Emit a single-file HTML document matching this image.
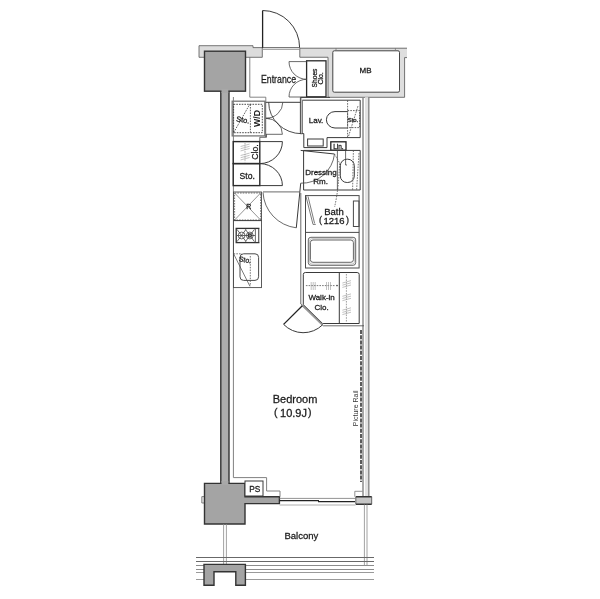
<!DOCTYPE html>
<html><head><meta charset="utf-8">
<style>
html,body{margin:0;padding:0;background:#fff;}
svg{display:block;}
text{font-family:"Liberation Sans",sans-serif;fill:#1a1a1a;stroke:#1a1a1a;stroke-width:.28;}
.l{fill:none;stroke:#3a3a3a;stroke-width:1;}
.k{fill:none;stroke:#222;stroke-width:1.3;}
.t{fill:none;stroke:#444;stroke-width:.8;}
.d{fill:none;stroke:#555;stroke-width:.8;stroke-dasharray:1.6 1.1;}
.col{fill:#a4a4a4;stroke:#333;stroke-width:1.4;}
.wall{fill:#dcdcdc;stroke:#555;stroke-width:.8;}
.w{fill:#fff;stroke:#3a3a3a;stroke-width:1;}
</style></head><body>
<svg width="600" height="599" viewBox="0 0 600 599">
<rect width="600" height="599" fill="#fff"/>

<!-- ===== walls ===== -->
<g id="walls">
<!-- top wall left of door -->
<path class="wall" d="M199 45.7H253V47.6H262.3V57.3H199Z"/>
<!-- top wall right of door + MB surround -->
<path d="M299.8 48.1H407V57.6H404.6V97.3H328V57.25H299.8Z" fill="#dedede"/>
<path class="t" style="stroke:#505050" d="M407 48.2H299.8V57.25H328V97.3H404.6V57.6H407"/>
<rect class="w" x="332.8" y="50.8" width="66.7" height="41.4" rx="1.5" style="stroke:#444"/>
<path class="t" d="M336 48.1V50.8M395.4 48.1V50.8" style="stroke:#777"/>
<!-- right wall -->
<rect x="365" y="97.2" width="3.2" height="399" fill="#e2e2e2"/>
<line x1="363" y1="97.2" x2="363" y2="496" stroke="#858585" stroke-width="1.4"/>
<line x1="368.8" y1="97.2" x2="368.8" y2="496" stroke="#858585" stroke-width="1.4"/>
<!-- left column + stem -->
<rect class="col" x="220.8" y="90" width="8.2" height="394" style="fill:#adadad"/>
<rect class="col" x="204.5" y="51.2" width="41" height="40"/>
<rect x="221.5" y="89" width="6.8" height="4" fill="#a8a8a8"/>
<!-- bottom column -->
<path class="t" style="stroke:#666;fill:#e8e8e8" d="M204.4 496.6H201.8V503H204.4"/>
<path class="col" d="M204.5 483.4H245V496.8H279.4V503.6H245V524H204.5Z"/>
<rect x="221.5" y="481" width="6.8" height="4" fill="#a8a8a8"/>
<!-- U column at bottom -->
<!-- wall end piece right -->
<rect x="355.8" y="496.7" width="15.9" height="7.5" fill="#c6c6c6"/>
<path d="M355.8 496.7H371.7M355.8 504.2H371.7" fill="none" stroke="#333" stroke-width="1.5"/>
<path class="t" d="M355.8 496.7V504.2M371.7 496.7V504.2"/>
<path class="t" style="stroke:#777" d="M362.5 491.3H354.8V496.7"/>
</g>

<!-- ===== interior lines ===== -->
<g id="lines">
<!-- entrance door -->
<line class="k" x1="262.6" y1="48" x2="262.6" y2="10.5"/>
<path class="l" d="M262.6 10.5A37 37 0 0 1 299.6 47.5"/>
<line class="t" x1="262.4" y1="47.6" x2="300" y2="47.6"/>
<line class="t" style="stroke:#777" x1="263" y1="49.3" x2="299.4" y2="49.3"/>
<!-- entrance room -->
<path class="t" style="stroke:#666" d="M249.8 57.3V97.2H265.8V101.3"/>

<!-- interior left wall line -->
<path style="fill:none;stroke:#808080;stroke-width:1" d="M233.4 97V477.6H266.6V491H280V496.6"/>
<!-- PS -->
<rect class="w" x="245" y="481" width="18" height="15"/>
</g>

<!-- ===== shoes clo ===== -->
<g id="shoes">
<rect class="w" x="306.6" y="60.8" width="19.4" height="36" style="stroke-width:1.3;stroke:#2a2a2a"/>
<path class="t" d="M289 61.6H306.7M289 97H306.7"/>
<path class="t" d="M289 61.6A17.7 17.7 0 0 0 306.7 79.3"/>
<path class="t" d="M289 97A17.7 17.7 0 0 1 306.7 79.3"/>
</g>

<!-- ===== W/D ===== -->
<g id="wd">
<rect x="232.2" y="101.2" width="32.6" height="34.7" fill="none" stroke="#777" stroke-width="1.3"/>
<line x1="265.6" y1="101.2" x2="265.6" y2="137" stroke="#777" stroke-width="1.2"/>
<rect class="d" x="233.6" y="104.3" width="28.7" height="28.4" style="stroke:#3a3a3a;stroke-width:.9"/>
<line class="d" x1="250.4" y1="104.3" x2="250.4" y2="132.7" style="stroke:#3a3a3a"/>
<path class="d" d="M233.6 132.7L250 103.8" style="stroke:#3a3a3a"/>
<!-- WD doors -->
<path class="l" d="M265.8 102.3H301.7"/><path class="t" d="M266 134.3H282.4"/>
<path class="t" d="M266.5 134.3V137.3H259.8V141.4"/>
<path class="t" d="M282.8 102.3A17 16 0 0 1 266 118.3H270"/>
<path class="t" d="M282.4 134.3A16.4 16 0 0 0 266 118.3"/>
<!-- hallway door -->
<path class="l" style="stroke-width:.9" d="M268.7 102.3A33 31.4 0 0 0 301.7 133.7"/>
</g>

<!-- ===== Clo / Sto ===== -->
<g id="closto">
<rect class="k" x="233.2" y="141.6" width="26.6" height="22" style="stroke:#2a2a2a;stroke-width:1.4"/>
<rect class="k" x="233.2" y="163.6" width="26.6" height="22" style="stroke:#2a2a2a;stroke-width:1.4"/>
<path d="M240.6 146.5L249.6 144.1M240.6 148.7L249.6 146.3M240.6 150.9L249.6 148.5M240.6 155.5L249.6 153.1M240.6 157.7L249.6 155.3M240.6 159.9L249.6 157.5" fill="none" stroke="#999" stroke-width=".6"/>
<line class="d" x1="245" y1="143" x2="245" y2="162.4" style="stroke:#999"/>
<path class="l" d="M259.8 141.6H282.4M259.8 185.6H282.4"/>
<path class="l" d="M282.4 141.6A22.6 22 0 0 1 259.8 163.6"/>
<path class="l" d="M259.8 163.6A22.6 22 0 0 1 282.4 185.6"/>
</g>

<!-- ===== Lav ===== -->
<g id="lav">
<path class="l" d="M300.4 97.4V133.6H303.8V147.6H327V137.6H360.2V100.2H302.4"/>
<line class="l" x1="300.4" y1="97.4" x2="330" y2="97.4"/>
<line class="t" x1="302.4" y1="100.2" x2="302.4" y2="133.6"/>
<rect x="300.9" y="98" width="1.2" height="35.4" fill="#bbb"/>
<path class="l" d="M347 111.6H335A8.6 8.2 0 0 0 335 128H347"/>
<rect class="d" x="347.6" y="110.6" width="12" height="17" style="stroke:#3a3a3a"/>
<line class="d" x1="347.6" y1="100.4" x2="347.6" y2="137.4" style="stroke:#444"/>
<path class="d" d="M348.6 136L358 106" style="stroke:#444"/>
<rect class="l" x="307.6" y="139" width="15.6" height="7"/>
<rect class="k" x="330.8" y="141.8" width="15.2" height="8.4"/>
</g>

<!-- ===== Dressing ===== -->
<g id="dress">
<path class="l" d="M303.6 150.4H360.2V190H303.6Z"/>
<line class="t" x1="337.4" y1="150.4" x2="337.4" y2="190"/>
<rect class="l" x="340.3" y="159.2" width="14" height="23.3" rx="6.6"/>
<path class="t" d="M345.6 151V165H347"/>
<path class="l" d="M300.7 150.4L334.5 154"/>
<path class="t" d="M334.5 154A33 33 0 0 1 300.7 183.2"/>
<path class="d" d="M353.4 150.4L352.6 190M359 153L356.6 190"/>
</g>

<!-- ===== Kitchen ===== -->
<g id="kitchen">
<rect class="l" x="233.5" y="192" width="28" height="95.6" style="stroke:#4a4a4a;stroke-width:.9"/>
<rect class="d" x="234.6" y="193" width="26" height="27"/>
<path class="t" style="stroke:#666;stroke-width:.7" d="M234.6 193L260.6 220M260.6 193L234.6 220"/>
<line class="l" x1="233.6" y1="220.6" x2="261.6" y2="220.6"/>
<!-- stove -->
<rect class="k" x="236.2" y="228.4" width="22.6" height="14.2" style="stroke:#333"/>
<rect x="258.8" y="229" width="1.4" height="13" fill="#ccc"/>
<line class="t" x1="255.4" y1="228.4" x2="255.4" y2="242.6"/>
<line class="t" x1="237" y1="235.5" x2="255" y2="235.5"/>
<circle class="t" cx="241.6" cy="235.5" r="3.4"/>
<circle class="t" cx="249.8" cy="235.5" r="3.4"/>
<circle cx="249.8" cy="235.5" r="1.6" fill="#fff" stroke="#222" stroke-width="1.1"/>
<path class="t" d="M237 229.4L246 241.6M246 229.4L237 241.6M245.4 229.4L254.4 241.6M254.4 229.4L245.4 241.6"/>
<!-- sink -->
<rect class="l" x="240" y="253.8" width="18.6" height="26.6" rx="3.6" style="stroke:#4a4a4a"/>
<path class="d" d="M233.6 253.8H242M250.3 256V286"/>
<path class="t" style="stroke-width:.7" d="M233.6 253.8L250 286.4"/>
<!-- kitchen door -->
<line x1="263" y1="191.8" x2="299.6" y2="191.8" stroke="#888" stroke-width="1.2"/>
<path class="l" d="M300.7 183.3L296.3 227.8"/>
<path class="t" d="M296.3 227.8A37.6 37.6 0 0 1 263 192.4"/>
</g>

<!-- ===== Bath ===== -->
<g id="bath">
<rect class="l" x="305.5" y="195.6" width="53.6" height="72.4" style="stroke:#4a4a4a"/>
<line class="l" x1="305.5" y1="232.4" x2="359.1" y2="232.4" style="stroke:#4a4a4a"/>
<rect class="l" x="308.3" y="237.3" width="47.4" height="28" rx="2.6" style="stroke:#555;stroke-width:.9"/>
<rect class="t" x="309.4" y="238.7" width="45.2" height="25.4" rx="2.6" style="stroke:#999;stroke-width:.6"/>
<rect class="l" x="310.4" y="240" width="43" height="22.3" rx="2.6" style="stroke:#555;stroke-width:.9"/>
<rect class="l" x="353.4" y="201" width="5.6" height="25.5" style="stroke:#4a4a4a"/>
<path class="t" style="stroke-width:.7" d="M305.8 195.7L313 224.4H315.8M308 196.4L314.6 223.4"/>
<path class="t" d="M300.8 193V304L323.4 325.8H364"/>
<path class="d" d="M334.5 154L339.6 163C339 178 338 192 334.6 207"/>
</g>

<!-- ===== Walk-in ===== -->
<g id="walkin">
<path class="l" d="M303.3 304.6V274.5A2 2 0 0 1 305.3 272.5H357.2A2 2 0 0 1 359.2 274.5V323.5H322.4"/>
<path d="M302.2 304.8L322.6 324.6" fill="none" stroke="#999" stroke-width="2.4"/>
<path class="t" d="M303.3 304.6L322.4 323.5"/>
<line class="l" x1="339.3" y1="272.5" x2="339.3" y2="323.5"/>
<line class="d" x1="346.4" y1="274" x2="346.4" y2="322" style="stroke:#888"/>
<line class="d" x1="305.9" y1="285.6" x2="335.2" y2="285.6"/>
<path d="M311.2 282V290M313.2 282V290M315.2 282V290M326.5 282V290M328.5 282V290M330.5 282V290M342.4 283.0L351 280.6M342.4 285.2L351 282.8M342.4 287.4L351 285.0M342.4 296.3L351 293.9M342.4 298.5L351 296.1M342.4 300.7L351 298.3M342.4 310.2L351 307.8M342.4 312.4L351 310.0M342.4 314.6L351 312.2" fill="none" stroke="#999" stroke-width=".6"/>
<circle cx="337" cy="285.6" r=".8" fill="#333"/>
<!-- door -->
<path class="k" d="M302.3 305.7L283.6 324.4"/>
<path class="l" d="M283.6 324.4A27.5 27.5 0 0 0 322.6 324.8"/>
</g>

<!-- ===== window / balcony ===== -->
<g id="balcony">
<line class="t" style="stroke:#777" x1="279.6" y1="498.4" x2="355.6" y2="498.4"/>
<line class="t" style="stroke:#999" x1="279.6" y1="505" x2="355.6" y2="505"/>
<line class="k" x1="279.6" y1="500.6" x2="319" y2="500.6"/>
<line class="k" x1="318" y1="501.7" x2="355" y2="501.7"/>
<!-- partitions -->
<path class="t" style="stroke:#8a8a8a" d="M223.6 524V564M226.4 524V564"/>
<path class="t" style="stroke:#8a8a8a" d="M364.4 504.4V565M367 504.4V565"/>
<!-- railing -->
<path d="M196 557.5H374M196 561.5H374" fill="none" stroke="#686868" stroke-width="1"/>
<path d="M196 565.5H374M196 569.5H374" fill="none" stroke="#8c8c8c" stroke-width="1"/>
<path d="M196 572.5H374M196 579.5H374" fill="none" stroke="#9a9a9a" stroke-width="1"/>
<rect x="204" y="564.4" width="41.4" height="21.4" fill="#fff"/>
<path class="col" d="M204 564.4H245.4V585.2H235.8V571.8H214V585.2H204Z"/>
<!-- picture rail -->
<line x1="361" y1="330" x2="361" y2="482" stroke="#333" stroke-width="1.6" stroke-dasharray="4 1.2"/>
</g>

<!-- ===== text ===== -->
<g id="labels" opacity="0.99">
<text x="278.5" y="83.2" font-size="11" text-anchor="middle" textLength="35" lengthAdjust="spacingAndGlyphs">Entrance</text>
<text transform="translate(316.6 78) rotate(-90)" font-size="7.5" text-anchor="middle" textLength="18.8" lengthAdjust="spacingAndGlyphs">Shoes</text>
<text transform="translate(323.2 78.4) rotate(-90)" font-size="7.5" text-anchor="middle" textLength="12.4" lengthAdjust="spacingAndGlyphs">Clo.</text>
<text x="365.5" y="73.3" font-size="8" text-anchor="middle">MB</text>
<text transform="translate(242.4 122.4) rotate(11)" font-size="7.5" text-anchor="middle">Sto.</text>
<text transform="translate(259.6 118.5) rotate(-90)" font-size="8.8" text-anchor="middle" font-weight="bold" style="stroke-width:0">W/D</text>
<text transform="translate(258.3 152) rotate(-90)" font-size="8.8" text-anchor="middle">Clo.</text>
<text x="247.2" y="178.5" font-size="8.6" text-anchor="middle">Sto.</text>
<text x="316" y="123.4" font-size="8" text-anchor="middle">Lav.</text>
<text x="353" y="122" font-size="6" text-anchor="middle">Sto.</text>
<text x="338.4" y="148.5" font-size="6.5" text-anchor="middle">Lin.</text>
<text x="321" y="175.3" font-size="8" text-anchor="middle">Dressing</text>
<text x="320.6" y="183.8" font-size="8" text-anchor="middle">Rm.</text>
<text x="248.8" y="209" font-size="7" text-anchor="middle">R</text>
<text transform="translate(244.6 262.2) rotate(12)" font-size="7" text-anchor="middle">Sto.</text>
<text x="334" y="214.6" font-size="9.5" text-anchor="middle">Bath</text>
<text x="334" y="223.7" font-size="9.5" text-anchor="middle">1216</text>
<text x="320.6" y="223.2" font-size="9" text-anchor="middle">(</text>
<text x="347.4" y="223.2" font-size="9" text-anchor="middle">)</text>
<text x="321.6" y="300.2" font-size="8" text-anchor="middle">Walk-in</text>
<text x="321.6" y="309.8" font-size="8" text-anchor="middle">Clo.</text>
<text x="295" y="403.3" font-size="11" text-anchor="middle">Bedroom</text>
<text x="293.5" y="416.7" font-size="11" text-anchor="middle">10.9J</text>
<text x="275.8" y="416.2" font-size="10.5" text-anchor="middle">(</text>
<text x="309.8" y="416.2" font-size="10.5" text-anchor="middle">)</text>
<text transform="translate(358.2 408.3) rotate(-90)" font-size="7" text-anchor="middle" style="stroke-width:0;fill:#333">Picture Rail</text>
<text x="254.7" y="491.75" font-size="8.3" text-anchor="middle">PS</text>
<text x="301.4" y="539.3" font-size="9.5" text-anchor="middle">Balcony</text>
</g>
</svg>
</body></html>
